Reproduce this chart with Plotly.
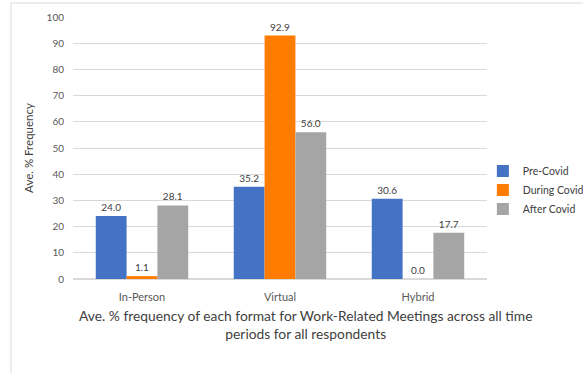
import plotly.graph_objects as go

formats = ["In-Person", "Virtual", "Hybrid"]
pre_covid = [24.0, 35.2, 30.6]
during_covid = [1.1, 92.9, 0.0]
after_covid = [28.1, 56.0, 17.7]
series_names = ["Pre-Covid", "During Covid", "After Covid"]
colors = ["#4472C4", "#FF7C00", "#A5A5A5"]
x_title = "Ave. % frequency of each format for Work-Related Meetings across all time<br>periods for all respondents"

fig = go.Figure()
for name, vals, col in zip(series_names, [pre_covid, during_covid, after_covid], colors):
    fig.add_trace(go.Bar(
        x=formats, y=vals, name=name, marker=dict(color=col, line=dict(width=0)),
        texttemplate="%{y:.1f}", textposition="outside",
        textfont=dict(size=10, color="#404040"), cliponaxis=False,
    ))

fig.update_layout(
    width=583, height=373,
    margin=dict(l=73, r=96, t=17, b=94, autoexpand=False),
    paper_bgcolor="white", plot_bgcolor="white",
    font=dict(family="Lato, Carlito, sans-serif", color="#595959"),
    barmode="group", bargap=0.33, bargroupgap=0,
    legend=dict(x=0.99, y=0.34, yanchor="middle", xanchor="left",
                bgcolor="rgba(0,0,0,0)",
                font=dict(size=10.5, color="#404040"), itemwidth=30,
                tracegroupgap=4),
    showlegend=True,
    yaxis=dict(range=[0, 100], dtick=10, showgrid=True, gridcolor="#D9D9D9",
               gridwidth=1, zeroline=True, zerolinecolor="#D9D9D9",
               tickfont=dict(size=10, color="#595959"), ticks="",
               ticklabelstandoff=8,
               title=dict(text="Ave. % Frequency", font=dict(size=11.5, color="#404040"),
                          standoff=10)),
    xaxis=dict(showgrid=False, tickfont=dict(size=11, color="#595959"),
               showline=True, linecolor="#D9D9D9", ticks="",
               ticklabelstandoff=8),
)

# x-axis title, centred on the whole chart area
fig.add_annotation(text=x_title, xref="paper", yref="paper",
                   x=(305 - 73) / 414, y=(279 - 305) / 262,
                   xanchor="center", yanchor="top", showarrow=False,
                   font=dict(size=13.8, color="#404040"))

# outer chart border (left and top edges)
fig.add_shape(type="line", xref="paper", yref="paper",
              x0=(11 - 73) / 414, x1=(11 - 73) / 414, y0=(279 - 373) / 262, y1=(279 - 3) / 262,
              line=dict(color="#D9D9D9", width=1))
fig.add_shape(type="line", xref="paper", yref="paper",
              x0=(11 - 73) / 414, x1=(583 - 73) / 414, y0=(279 - 3) / 262, y1=(279 - 3) / 262,
              line=dict(color="#D9D9D9", width=1))

fig.write_html("out.html")
